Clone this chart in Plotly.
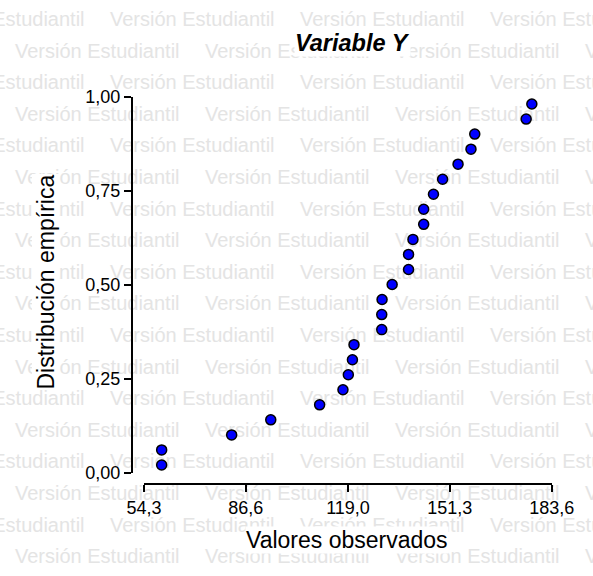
import plotly.graph_objects as go

W, H = 593, 576

# ---- data ----
valores_observados = [59.9, 59.9, 82.1, 94.5, 110.0, 117.4, 119.1, 120.4, 120.9,
                      129.7, 129.7, 129.8, 133.0, 138.2, 138.2, 139.6, 143.0,
                      143.0, 146.1, 149.0, 153.9, 158.0, 159.2, 175.5, 177.3]
distribucion_empirica = [0.02, 0.06, 0.10, 0.14, 0.18, 0.22, 0.26, 0.30, 0.34,
                         0.38, 0.42, 0.46, 0.50, 0.54, 0.58, 0.62, 0.66, 0.70,
                         0.74, 0.78, 0.82, 0.86, 0.90, 0.94, 0.98]
x_tickvals = [54.3, 86.6, 119.0, 151.3, 183.6]
x_ticktext = ["54,3", "86,6", "119,0", "151,3", "183,6"]
y_tickvals = [0.0, 0.25, 0.50, 0.75, 1.0]
y_ticktext = ["0,00", "0,25", "0,50", "0,75", "1,00"]
titulo = "Variable Y"
titulo_x = "Valores observados"
titulo_y = "Distribución empírica"
marca_agua = "Versión Estudiantil"

FONT = "Liberation Sans, Arial, sans-serif"

# ---- watermark layout (pixel grid on a full-figure helper axis) ----
wm_x, wm_y = [], []
for k in range(18):
    yc = 21 + 31.6 * k
    x0 = -80 if k % 2 == 0 else 15
    for j in range(4):
        wm_x.append(x0 + 190 * j)
        wm_y.append(yc)

fig = go.Figure()
fig.add_trace(go.Scatter(
    x=wm_x, y=wm_y, mode="text", text=[marca_agua] * len(wm_x),
    textposition="middle right",
    textfont=dict(family=FONT, size=20, color="#e4e4e4"),
    hoverinfo="skip", showlegend=False, xaxis="x", yaxis="y"))

fig.add_trace(go.Scatter(
    x=valores_observados, y=distribucion_empirica, mode="markers",
    marker=dict(size=10, color="#0000FF", line=dict(color="black", width=1.5)),
    cliponaxis=False, showlegend=False, xaxis="x2", yaxis="y2"))

px2x = lambda p: p / W
px2y = lambda p: 1 - p / H

axis_common = dict(showgrid=False, zeroline=False, showline=True, linecolor="black",
                   linewidth=2, ticks="outside", ticklen=7, tickwidth=1.5,
                   tickcolor="black", tickfont=dict(family=FONT, size=18, color="black"),
                   fixedrange=True, automargin=False)

fig.update_layout(
    width=W, height=H,
    margin=dict(l=0, r=0, t=0, b=0, pad=0, autoexpand=False),
    paper_bgcolor="white", plot_bgcolor="rgba(0,0,0,0)",
    showlegend=False,
    xaxis=dict(domain=[0, 1], range=[0, W], visible=False, fixedrange=True),
    yaxis=dict(domain=[0, 1], range=[H, 0], visible=False, fixedrange=True),
    xaxis2=dict(domain=[px2x(144), px2x(551.7)], range=[54.3, 183.6],
                anchor="free", position=px2y(484),
                tickmode="array", tickvals=x_tickvals, ticktext=x_ticktext,
                **axis_common),
    yaxis2=dict(domain=[px2y(472.5), px2y(96.5)], range=[0, 1],
                anchor="free", position=px2x(132),
                tickmode="array", tickvals=y_tickvals, ticktext=y_ticktext,
                **axis_common),
    annotations=[
        dict(text="<b><i>" + titulo + "</i></b>", x=px2x(352.6), y=px2y(43),
             xref="paper", yref="paper", showarrow=False, xanchor="center",
             yanchor="middle", bgcolor="white", borderpad=0,
             font=dict(family=FONT, size=23.5, color="black")),
        dict(text=titulo_x, x=px2x(346.5), y=px2y(540), xref="paper", yref="paper",
             showarrow=False, xanchor="center", yanchor="middle", bgcolor="white",
             borderpad=0, font=dict(family=FONT, size=23, color="black")),
        dict(text=titulo_y, x=px2x(45.5), y=px2y(282), xref="paper", yref="paper",
             showarrow=False, xanchor="center", yanchor="middle", textangle=-90,
             bgcolor="white", borderpad=0,
             font=dict(family=FONT, size=23, color="black")),
    ],
)

fig.write_html("out.html", config={"displayModeBar": False},
               post_script="document.body.style.margin='0';document.body.style.padding='0';")
